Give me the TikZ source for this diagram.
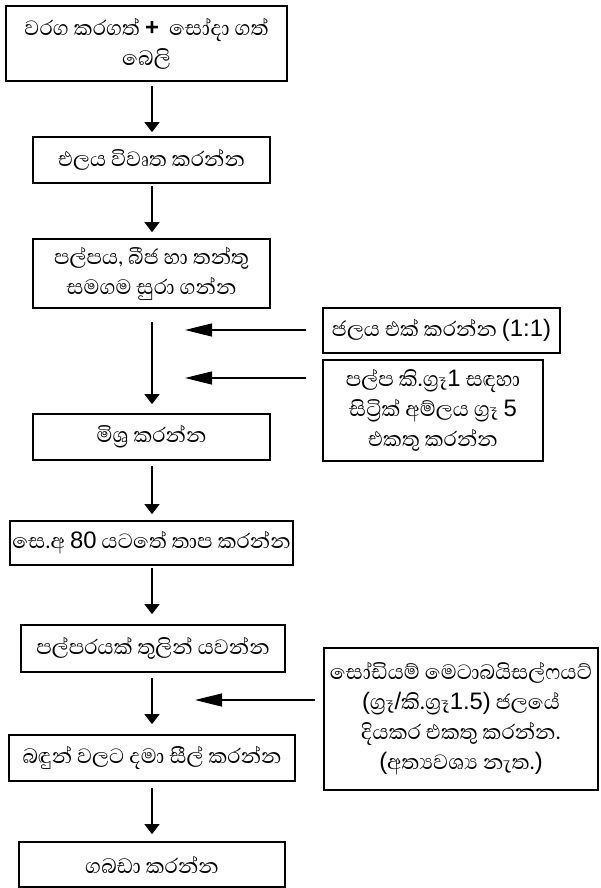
\documentclass[tikz,border=0pt]{standalone}
\usepackage{fontspec}
\newfontfamily\sinhalafont[Script=Sinhala]{Abhaya Libre}
\newfontfamily\latinfont[Scale=0.9]{Liberation Sans}
\newcommand\lat[1]{{\latinfont #1}}
\usetikzlibrary{arrows.meta}
\begin{document}
\begin{tikzpicture}[x=1pt,y=-1pt,
  stepbox/.style={draw, line width=1.7pt, align=center, inner sep=2pt,
    font=\sinhalafont\fontsize{26.5}{30}\selectfont},
  flow/.style={line width=1.2pt, -{Triangle[length=10pt,width=15pt]}},
  feed/.style={line width=1.2pt, -{Triangle[length=27pt,width=13pt]}}]
\useasboundingbox (0,0) rectangle (600,888);

% main column of steps
\node[stepbox, minimum width=281, minimum height=75] (b1) at (146.5,43.5)
  {වරග කරගත් \lat{\bfseries +}\ \ සෝදා ගත්\\බෙලි};
\node[stepbox, minimum width=237, minimum height=46] (b2) at (151.5,160)
  {එලය විවෘත කරන්න};
\node[stepbox, minimum width=237, minimum height=69] (b3) at (151.5,273.5)
  {පල්පය, බීජ හා තන්තු\\සමගම සුරා ගන්න};
\node[stepbox, minimum width=237, minimum height=46] (b6) at (151.5,437)
  {මිශ්‍ර කරන්න};
\node[stepbox, minimum width=283, minimum height=44] (b7) at (151.5,543)
  {සෙ.අ \lat{80} යටතේ තාප කරන්න};
\node[stepbox, minimum width=264, minimum height=47] (b8) at (153,648.5)
  {පල්පරයක් තුලින් යවන්න};
\node[stepbox, minimum width=286, minimum height=46] (b10) at (152,758)
  {බඳුන් වලට දමා සීල් කරන්න};
\node[stepbox, minimum width=266, minimum height=45] (b11) at (152,864.5)
  {ගබඩා කරන්න};

% side inputs
\node[stepbox, minimum width=237, minimum height=45] (rA) at (441.5,330.5)
  {ජලය එක් කරන්න \lat{(1:1)}};
\node[stepbox, minimum width=220, minimum height=101] (rB) at (433,410.5)
  {පල්ප කි.ග්‍රෑ\lat{1} සඳහා\\සිට්‍රික් අම්ලය ග්‍රෑ \lat{5}\\එකතු කරන්න};
\node[stepbox, minimum width=274, minimum height=142] (rC) at (461,719)
  {සෝඩියම් මෙටාබයිසල්ෆයට්\\\lat{(}ග්‍රෑ\lat{/}කි.ග්‍රෑ\lat{1.5)} ජලයේ\\දියකර එකතු කරන්න.\\\lat{(}අත්‍යවශ්‍ය නැත.\lat{)}};

% arrow column and side-arrow tips
\coordinate (col) at (152,0);
\coordinate (m1) at (185,330);
\coordinate (m2) at (185,378);
\coordinate (m3) at (195,700);

\draw[flow, shorten <=4pt, shorten >=4pt] (b1.south -| col) -- (b2.north -| col);
\draw[flow, shorten <=2pt, shorten >=6pt] (b2.south -| col) -- (b3.north -| col);
\draw[flow, shorten <=13pt, shorten >=9pt] (b3.south -| col) -- (b6.north -| col);
\draw[flow, shorten <=5pt, shorten >=6pt] (b6.south -| col) -- (b7.north -| col);
\draw[flow, shorten <=2pt, shorten >=10pt] (b7.south -| col) -- (b8.north -| col);
\draw[flow, shorten <=5pt, shorten >=10pt] (b8.south -| col) -- (b10.north -| col);
\draw[flow, shorten <=6pt, shorten >=7pt] (b10.south -| col) -- (b11.north -| col);

\draw[feed, shorten <=16pt] (rA.west |- m1) -- (m1);
\draw[feed, shorten <=16pt] (rB.west |- m2) -- (m2);
\draw[feed, shorten <=8pt] (rC.west |- m3) -- (m3);
\end{tikzpicture}
\end{document}
